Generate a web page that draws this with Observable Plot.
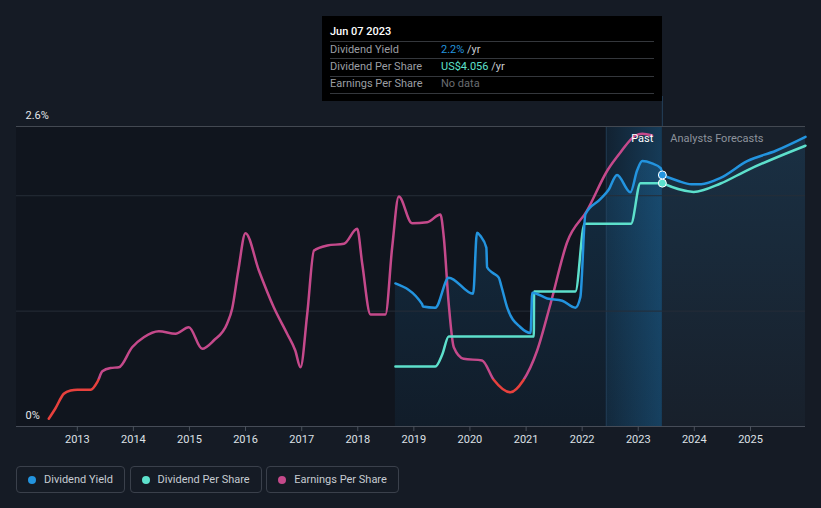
<!DOCTYPE html>
<html>
<head>
<meta charset="utf-8">
<script src="https://cdn.jsdelivr.net/npm/d3@7"></script>
<script src="https://cdn.jsdelivr.net/npm/@observablehq/plot@0.6"></script>
<style>
  html, body { margin: 0; padding: 0; }
  body { background: #151b25; width: 821px; height: 508px; overflow: hidden; position: relative; font-family: Roboto, "Open Sans", sans-serif; }
  #chart svg { display: block; }
  #tip { position: absolute; left: 322px; top: 16px; width: 340px; height: 85px; background: #000; font-size: 11px; line-height: 11px; }
  #tip div { position: absolute; white-space: nowrap; }
  #tip .t { left: 8px; color: #fff; font-weight: 500; }
  #tip .lab { left: 8px; color: #9b9ea3; }
  #tip .val { left: 119px; color: #c9ccd0; }
  #tip .sep { left: 8px; width: 324px; height: 1px; background: #34373c; }
  #legend { display: flex; gap: 4.6px; margin: 11px 0 0 16px; }
  #legend .item { box-sizing: border-box; height: 27px; border: 1px solid #3a404b; border-radius: 4px; display: flex; align-items: center; padding: 0 11px 0 11px; color: #c6cbd2; font-size: 11px; }
  #legend .dot { width: 8px; height: 8px; border-radius: 50%; margin-right: 8px; }
</style>
</head>
<body>
<div id="chart"></div>
<div id="legend"></div>
<div id="tip">
  <div class="t" style="top:10px">Jun 07 2023</div>
  <div class="sep" style="top:25px"></div>
  <div class="lab" style="top:28px">Dividend Yield</div>
  <div class="val" style="top:28px"><span style="color:#2394df">2.2%</span> /yr</div>
  <div class="sep" style="top:42px"></div>
  <div class="lab" style="top:45px">Dividend Per Share</div>
  <div class="val" style="top:45px"><span style="color:#5de0cc">US$4.056</span> /yr</div>
  <div class="sep" style="top:60px"></div>
  <div class="lab" style="top:62px">Earnings Per Share</div>
  <div class="val" style="top:62px; color:#6a6d72">No data</div>
  <div class="sep" style="top:77px"></div>
</div>
<script>
// ---- Data ----
const yieldPastDates = ["2018-09-03","2019-02-24","2019-03-01","2019-05-21","2019-08-16","2020-01-22","2020-02-16","2020-03-10","2020-04-17","2020-04-22","2020-05-30","2020-07-07","2020-07-23","2020-08-31","2020-11-25","2021-01-30","2021-02-10","2021-05-18","2021-08-24","2021-11-18","2021-12-20","2022-01-22","2022-04-29","2022-06-21","2022-08-16","2022-11-11","2022-12-25","2023-01-27","2023-04-01","2023-05-27","2023-06-07"];
const yieldPastValues = [1.24,1.06,1.04,1.03,1.29,1.15,1.68,1.65,1.55,1.38,1.33,1.29,1.22,1.03,0.86,0.81,1.16,1.11,1.09,1.03,1.12,1.84,1.97,2.05,2.18,2.03,2.22,2.30,2.28,2.24,2.18];
const yieldFcDates = ["2023-06-07","2023-09-15","2023-12-12","2024-02-15","2024-06-20","2024-12-10","2025-06-15","2025-12-25"];
const yieldFcValues = [2.18,2.13,2.10,2.10,2.155,2.30,2.39,2.51];

const dpsPastDates = ["2018-09-03","2019-05-21","2019-07-05","2019-08-16","2021-02-20","2021-02-22","2021-11-18","2022-01-16","2022-11-15","2023-01-15","2023-06-07"];
const dpsPastValues = [1.00,1.00,1.20,1.50,1.50,2.25,2.25,3.38,3.38,4.056,4.056];
const dpsFcDates = ["2023-06-07","2023-12-28","2024-06-20","2024-12-10","2025-12-25"];
const dpsFcValues = [4.056,3.91,4.05,4.27,4.68];

const epsDates = ["2012-06-29","2012-08-11","2012-10-05","2012-11-18","2013-01-01","2013-03-29","2013-05-13","2013-06-13","2013-08-05","2013-09-29","2013-12-24","2014-03-10","2014-06-16","2014-10-02","2014-12-28","2015-03-25","2015-06-08","2015-09-03","2015-10-06","2015-11-15","2016-01-01","2016-03-28","2016-07-03","2016-09-28","2016-11-20","2016-12-24","2017-02-06","2017-03-22","2017-06-17","2017-10-03","2017-12-28","2018-01-30","2018-03-25","2018-06-30","2018-08-13","2018-09-25","2018-12-20","2019-03-29","2019-06-23","2019-07-15","2019-08-16","2019-09-18","2019-11-21","2020-03-20","2020-06-04","2020-09-21","2020-12-13","2021-03-14","2021-06-09","2021-09-25","2022-02-02","2022-06-14","2022-09-08","2022-12-14","2023-01-27","2023-04-01"];
const epsValues = [-1.57,-1.16,-0.57,-0.44,-0.41,-0.41,-0.08,0.33,0.46,0.49,1.29,1.69,1.93,1.83,2.09,1.23,1.56,2.23,2.83,4.36,5.85,4.36,2.89,1.83,1.16,0.49,2.63,5.16,5.36,5.43,6.03,4.63,2.6,2.6,5.29,7.32,6.25,6.29,6.6,5.69,3.03,1.29,0.83,0.76,-0.01,-0.51,-0.04,1.16,3.03,5.49,6.76,8.36,9.09,9.76,9.83,9.76];

const yearTicks = [2013,2014,2015,2016,2017,2018,2019,2020,2021,2022,2023,2024,2025];
const yTickValues = [0, 2.6];
const yTickLabels = ["0%", "2.6%"];
const gridValues = [1, 2];
const yMax = 2.6;            // dividend yield axis top (%)
const dpsAxisMax = 5;        // US$ at the top of the chart
const epsAxisMin = -1.88, epsAxisMax = 10.12;
const epsThreshold = 0;

const domainStart = "2011-12-02", domainEnd = "2025-12-25";
const nowDate = "2023-06-07", pastBandStart = "2022-06-07";

const legendItems = [
  {label: "Dividend Yield", color: "#2394df"},
  {label: "Dividend Per Share", color: "#5de0cc"},
  {label: "Earnings Per Share", color: "#c5498b"}
];

// ---- Build ----
const parse = d3.utcParse("%Y-%m-%d");
const T0 = parse(domainStart), T1 = parse(domainEnd), now = parse(nowDate), bandStart = parse(pastBandStart);
const dpsToY = v => v / dpsAxisMax * yMax;
const epsToY = v => (v - epsAxisMin) / (epsAxisMax - epsAxisMin) * yMax;

const yieldPast = yieldPastDates.map((d, i) => ({date: parse(d), v: yieldPastValues[i]}));
const yieldFc = yieldFcDates.map((d, i) => ({date: parse(d), v: yieldFcValues[i]}));
const dpsPast = dpsPastDates.map((d, i) => ({date: parse(d), v: dpsToY(dpsPastValues[i])}));
const dpsFc = dpsFcDates.map((d, i) => ({date: parse(d), v: dpsToY(dpsFcValues[i])}));
const eps = epsDates.map((d, i) => ({date: parse(d), v: epsToY(epsValues[i])}));
const ticks = yearTicks.map(y => new Date(Date.UTC(y, 0, 1)));

const BLUE = "#2394df", TEAL = "#5de0cc", PINK = "#c5498b", RED = "#e8413d";

const chart = Plot.plot({
  width: 821, height: 455,
  marginLeft: 16, marginRight: 16, marginTop: 126, marginBottom: 29,
  style: {background: "transparent", fontFamily: "Roboto, sans-serif", fontSize: "11px", overflow: "visible"},
  x: {type: "utc", domain: [T0, T1]},
  y: {domain: [0, yMax], axis: null},
  marks: [
    Plot.rect([{a: T0, b: now}], {x1: "a", x2: "b", y1: 0, y2: yMax, fill: "#10151e"}),
    Plot.rect([{a: now, b: T1}], {x1: "a", x2: "b", y1: 0, y2: yMax, fill: "#18202b"}),
    Plot.areaY(yieldPast, {x: "date", y: "v", curve: "monotone-x", fill: "url(#gPast)"}),
    Plot.areaY(yieldFc, {x: "date", y: "v", curve: "monotone-x", fill: "url(#gFc)"}),
    Plot.rect([{a: bandStart, b: now}], {x1: "a", x2: "b", y1: 0, y2: yMax, fill: "url(#gBand)"}),
    Plot.ruleX([bandStart], {y1: 0, y2: yMax, stroke: "#2c4a66", strokeOpacity: 0.6}),
    Plot.ruleY(gridValues, {stroke: "#262d38"}),
    Plot.ruleY([yMax], {stroke: "#434952"}),
    Plot.ruleX([now], {y1: yMax, y2: yMax * 1.1, stroke: "#24405c"}),
    Plot.ruleY([0], {stroke: "#464c57"}),
    Plot.axisX({ticks, tickSize: 5, stroke: "#4a515c", tickFormat: () => ""}),
    Plot.axisX({ticks, tickSize: 0, tickPadding: 9, tickFormat: "%Y", fill: "#dde0e5", fontSize: 11}),
    Plot.text(yTickValues.map((v, i) => ({v, label: yTickLabels[i]})), {
      y: "v", text: "label", frameAnchor: "left", dx: 9, dy: -8, textAnchor: "start", lineAnchor: "bottom", fill: "#e3e6ea", fontSize: 11
    }),
    Plot.line(eps, {x: "date", y: "v", curve: "monotone-x", stroke: "url(#gEps)", strokeWidth: 2.5}),
    Plot.line(dpsPast, {x: "date", y: "v", curve: "monotone-x", stroke: TEAL, strokeWidth: 2.5}),
    Plot.line(dpsFc, {x: "date", y: "v", curve: "monotone-x", stroke: TEAL, strokeWidth: 2.5}),
    Plot.line(yieldPast, {x: "date", y: "v", curve: "monotone-x", stroke: BLUE, strokeWidth: 2.5}),
    Plot.line(yieldFc, {x: "date", y: "v", curve: "monotone-x", stroke: BLUE, strokeWidth: 2.5}),
    Plot.dot([dpsFc[0]], {x: "date", y: "v", r: 4, fill: TEAL, stroke: "#fff", strokeWidth: 1}),
    Plot.dot([yieldFc[0]], {x: "date", y: "v", r: 4, fill: BLUE, stroke: "#fff", strokeWidth: 1}),
    Plot.text([{date: now, label: "Past"}], {x: "date", y: () => yMax, text: "label", textAnchor: "end", dx: -9, dy: 15.5, lineAnchor: "bottom", fill: "#ffffff", fontSize: 11}),
    Plot.text([{date: now, label: "Analysts Forecasts"}], {x: "date", y: () => yMax, text: "label", textAnchor: "start", dx: 8, dy: 15.5, lineAnchor: "bottom", fill: "#8d939c", fontSize: 11})
  ]
});

// gradients, positioned through the scales
const xs = chart.scale("x"), ys = chart.scale("y");
const yTop = ys.apply(yMax), yBot = ys.apply(0), yThr = ys.apply(epsToY(epsThreshold));
const ns = "http://www.w3.org/2000/svg";
const defs = d3.create("svg:defs");
function grad(id, x1, y1, x2, y2, stops) {
  const g = defs.append("linearGradient").attr("id", id).attr("gradientUnits", "userSpaceOnUse")
    .attr("x1", x1).attr("y1", y1).attr("x2", x2).attr("y2", y2);
  stops.forEach(([o, c, a]) => g.append("stop").attr("offset", o).attr("stop-color", c).attr("stop-opacity", a));
}
grad("gPast", 0, yTop, 0, yBot, [[0, BLUE, 0.2], [1, BLUE, 0.06]]);
grad("gFc", 0, yTop, 0, yBot, [[0, BLUE, 0.14], [1, BLUE, 0.0]]);
grad("gBand", xs.apply(bandStart), 0, xs.apply(now), 0, [[0, BLUE, 0.1], [1, BLUE, 0.3]]);
grad("gEps", 0, 0, 0, 455, [[0, PINK, 1], [yThr / 455, PINK, 1], [yThr / 455, RED, 1], [1, RED, 1]]);
chart.insertBefore(defs.node(), chart.firstChild);

document.getElementById("chart").appendChild(chart);

const legend = d3.select("#legend");
legendItems.forEach(it => {
  const d = legend.append("div").attr("class", "item");
  d.append("div").attr("class", "dot").style("background", it.color);
  d.append("span").text(it.label);
});
</script>
</body>
</html>
